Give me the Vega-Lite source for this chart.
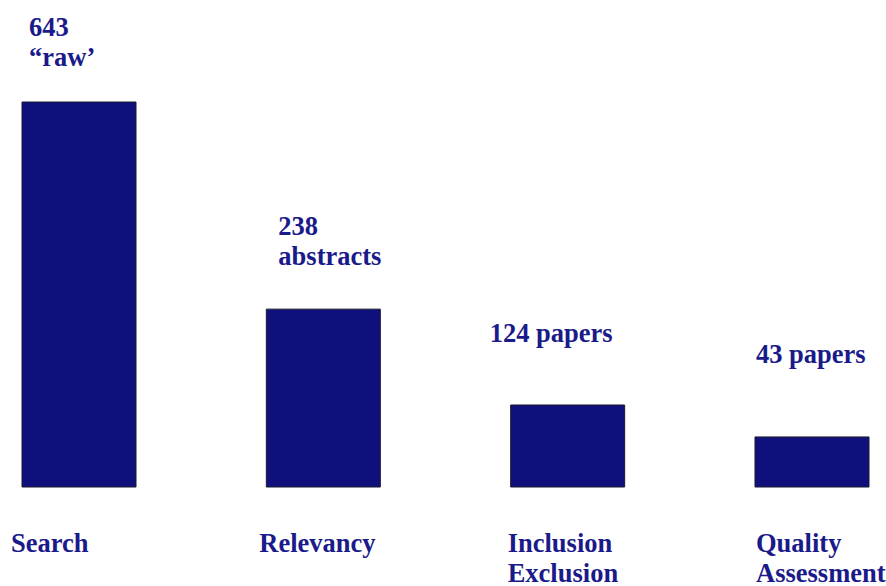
{
  "$schema": "https://vega.github.io/schema/vega-lite/v6.json",
  "autosize": {"type": "none"},
  "width": 847,
  "height": 487,
  "padding": {"left": 22, "top": 0, "right": 17, "bottom": 99},
  "background": "white",
  "config": {"view": {"stroke": null}, "text": {"lineBreak": "\n"}},
  "data": {
    "values": [
      {"stage": "Search", "stageLabel": "Search", "count": 643, "label": "643\n“raw’", "barHeight": 100},
      {"stage": "Relevancy", "stageLabel": "Relevancy", "count": 238, "label": "238\nabstracts", "barHeight": 46.2},
      {"stage": "Inclusion Exclusion", "stageLabel": "Inclusion\nExclusion", "count": 124, "label": "124 papers", "barHeight": 21.3},
      {"stage": "Quality Assessment", "stageLabel": "Quality\nAssessment", "count": 43, "label": "43 papers", "barHeight": 13.0}
    ]
  },
  "encoding": {
    "x": {
      "field": "stage", "type": "nominal", "sort": null, "axis": null,
      "scale": {"paddingInner": 0.5334, "paddingOuter": 0}
    }
  },
  "layer": [
    {
      "mark": {"type": "bar", "color": "#10107c", "stroke": "#1a1a2e", "strokeWidth": 1},
      "encoding": {
        "y": {"field": "barHeight", "type": "quantitative", "axis": null, "scale": {"domain": [0, 126.5], "nice": false}}
      }
    },
    {
      "transform": [{"filter": "datum.stage === 'Search'"}],
      "mark": {"type": "text", "lineBreak": "\n", "align": "left", "baseline": "alphabetic", "font": "Liberation Serif", "fontWeight": "bold", "fontSize": 26.5, "lineHeight": 30, "color": "#1a1a8a", "dx": 7, "dy": -66},
      "encoding": {"x": {"field": "stage", "type": "nominal", "sort": null, "bandPosition": 0}, "y": {"field": "barHeight", "type": "quantitative"}, "text": {"field": "label"}}
    },
    {
      "transform": [{"filter": "datum.stage === 'Relevancy'"}],
      "mark": {"type": "text", "lineBreak": "\n", "align": "left", "baseline": "alphabetic", "font": "Liberation Serif", "fontWeight": "bold", "fontSize": 26.5, "lineHeight": 30, "color": "#1a1a8a", "dx": 12, "dy": -74},
      "encoding": {"x": {"field": "stage", "type": "nominal", "sort": null, "bandPosition": 0}, "y": {"field": "barHeight", "type": "quantitative"}, "text": {"field": "label"}}
    },
    {
      "transform": [{"filter": "datum.stage === 'Inclusion Exclusion'"}],
      "mark": {"type": "text", "lineBreak": "\n", "align": "left", "baseline": "alphabetic", "font": "Liberation Serif", "fontWeight": "bold", "fontSize": 26.5, "lineHeight": 30, "color": "#1a1a8a", "dx": -21, "dy": -63},
      "encoding": {"x": {"field": "stage", "type": "nominal", "sort": null, "bandPosition": 0}, "y": {"field": "barHeight", "type": "quantitative"}, "text": {"field": "label"}}
    },
    {
      "transform": [{"filter": "datum.stage === 'Quality Assessment'"}],
      "mark": {"type": "text", "lineBreak": "\n", "align": "left", "baseline": "alphabetic", "font": "Liberation Serif", "fontWeight": "bold", "fontSize": 26.5, "lineHeight": 30, "color": "#1a1a8a", "dx": 1, "dy": -74},
      "encoding": {"x": {"field": "stage", "type": "nominal", "sort": null, "bandPosition": 0}, "y": {"field": "barHeight", "type": "quantitative"}, "text": {"field": "label"}}
    },
    {
      "transform": [{"filter": "datum.stage === 'Search'"}],
      "mark": {"type": "text", "lineBreak": "\n", "align": "left", "baseline": "alphabetic", "font": "Liberation Serif", "fontWeight": "bold", "fontSize": 26.5, "lineHeight": 30, "color": "#1a1a8a", "dx": -11, "dy": 65},
      "encoding": {"x": {"field": "stage", "type": "nominal", "sort": null, "bandPosition": 0}, "y": {"datum": 0, "type": "quantitative"}, "text": {"field": "stageLabel"}}
    },
    {
      "transform": [{"filter": "datum.stage === 'Relevancy'"}],
      "mark": {"type": "text", "lineBreak": "\n", "align": "left", "baseline": "alphabetic", "font": "Liberation Serif", "fontWeight": "bold", "fontSize": 26.5, "lineHeight": 30, "color": "#1a1a8a", "dx": -7, "dy": 65},
      "encoding": {"x": {"field": "stage", "type": "nominal", "sort": null, "bandPosition": 0}, "y": {"datum": 0, "type": "quantitative"}, "text": {"field": "stageLabel"}}
    },
    {
      "transform": [{"filter": "datum.stage === 'Inclusion Exclusion'"}],
      "mark": {"type": "text", "lineBreak": "\n", "align": "left", "baseline": "alphabetic", "font": "Liberation Serif", "fontWeight": "bold", "fontSize": 26.5, "lineHeight": 30, "color": "#1a1a8a", "dx": -3, "dy": 65},
      "encoding": {"x": {"field": "stage", "type": "nominal", "sort": null, "bandPosition": 0}, "y": {"datum": 0, "type": "quantitative"}, "text": {"field": "stageLabel"}}
    },
    {
      "transform": [{"filter": "datum.stage === 'Quality Assessment'"}],
      "mark": {"type": "text", "lineBreak": "\n", "align": "left", "baseline": "alphabetic", "font": "Liberation Serif", "fontWeight": "bold", "fontSize": 26.5, "lineHeight": 30, "color": "#1a1a8a", "dx": 1, "dy": 65},
      "encoding": {"x": {"field": "stage", "type": "nominal", "sort": null, "bandPosition": 0}, "y": {"datum": 0, "type": "quantitative"}, "text": {"field": "stageLabel"}}
    }
  ]
}
